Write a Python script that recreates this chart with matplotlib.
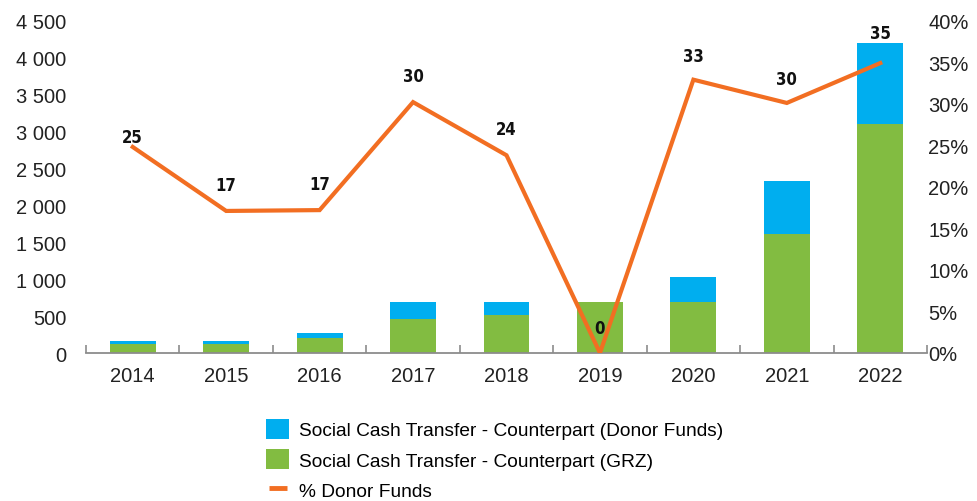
import matplotlib
matplotlib.use("Agg")
import matplotlib.pyplot as plt
import matplotlib.ticker as ticker
from matplotlib.patches import Patch
from matplotlib.lines import Line2D
import numpy as np

## data
years = ["2014", "2015", "2016", "2017", "2018", "2019", "2020", "2021", "2022"]
grz = [120, 120, 203, 465, 515, 690, 690, 1605, 3100]
donor = [40, 40, 68, 225, 175, 0, 340, 725, 1100]
pct_donor = [24.8, 17.1, 17.2, 30.2, 23.8, 0.0, 32.9, 30.1, 34.9]
pct_labels = ["25", "17", "17", "30", "24", "0", "33", "30", "35"]

BLUE = "#00aeef"
GREEN = "#82bc41"
ORANGE = "#f26e22"
GREY = "#8c8c8c"

plt.rcParams['font.family'] = ['Liberation Sans', 'DejaVu Sans']

fig = plt.figure(figsize=(9.78, 5.02), dpi=100)
ax = fig.add_axes([86/978, 1-354/502, 841/978, (354-21.7)/502])
x = np.arange(len(years))

ax.bar(x, grz, width=0.49, color=GREEN, zorder=2)
ax.bar(x, donor, width=0.49, bottom=grz, color=BLUE, zorder=2)

ax.set_xlim(-0.5, len(years) - 0.5)
ax.set_ylim(0, 4500)
ax.yaxis.set_major_locator(ticker.MultipleLocator(500))
ax.yaxis.set_major_formatter(ticker.FuncFormatter(lambda v, p: f"{int(v):,}".replace(",", " ")))
ax.tick_params(axis='y', length=0, pad=14, labelsize=14.5, colors="#222222")

ax.set_xticks(x)
ax.set_xticklabels(years)
ax.set_xticks(np.arange(-0.5, len(years), 1), minor=True)
ax.tick_params(axis='x', which='major', length=0, pad=9, labelsize=14.5, colors="#222222")
ax.tick_params(axis='x', which='minor', direction='in', length=5.5, width=1.2, color=GREY)

for s in ['top', 'left', 'right']:
    ax.spines[s].set_visible(False)
ax.spines['bottom'].set_color(GREY)
ax.spines['bottom'].set_linewidth(1.3)

## percentage line on right axis
ax2 = ax.twinx()
ax2.plot(x, pct_donor, color=ORANGE, linewidth=3, zorder=3, solid_joinstyle='miter')
ax2.set_ylim(0, 40)
ax2.yaxis.set_major_locator(ticker.MultipleLocator(5))
ax2.yaxis.set_major_formatter(ticker.FuncFormatter(lambda v, p: f"{int(v)}%"))
ax2.tick_params(axis='y', length=0, pad=1, labelsize=14.5, colors="#222222")
for s in ['top', 'left', 'right', 'bottom']:
    ax2.spines[s].set_visible(False)

offsets = [7, 19, 19, 19, 19, 18, 17, 17, 22]
for i, (v, lab) in enumerate(zip(pct_donor, pct_labels)):
    ax2.annotate(lab, (x[i], v), xytext=(0, offsets[i]), textcoords='offset points',
                 ha='center', va='center', fontsize=12, fontweight='bold', fontstretch='condensed',
                 family=['DejaVu Sans'], color="#111111", zorder=4)

handles = [Patch(facecolor=BLUE, edgecolor='none'),
           Patch(facecolor=GREEN, edgecolor='none'),
           Line2D([], [], color=ORANGE, marker='_', linestyle='none', markersize=13, markeredgewidth=3.5)]
labels = ["Social Cash Transfer - Counterpart (Donor Funds)",
          "Social Cash Transfer - Counterpart (GRZ)",
          "% Donor Funds"]
fig.legend(handles, labels, loc='upper left', bbox_to_anchor=(266/978, 1-420/502),
           frameon=False, fontsize=13.8, handlelength=1.2, handleheight=1.2,
           handletextpad=0.5, labelspacing=0.52, borderaxespad=0, borderpad=0)

fig.savefig("out.png", dpi=100)
